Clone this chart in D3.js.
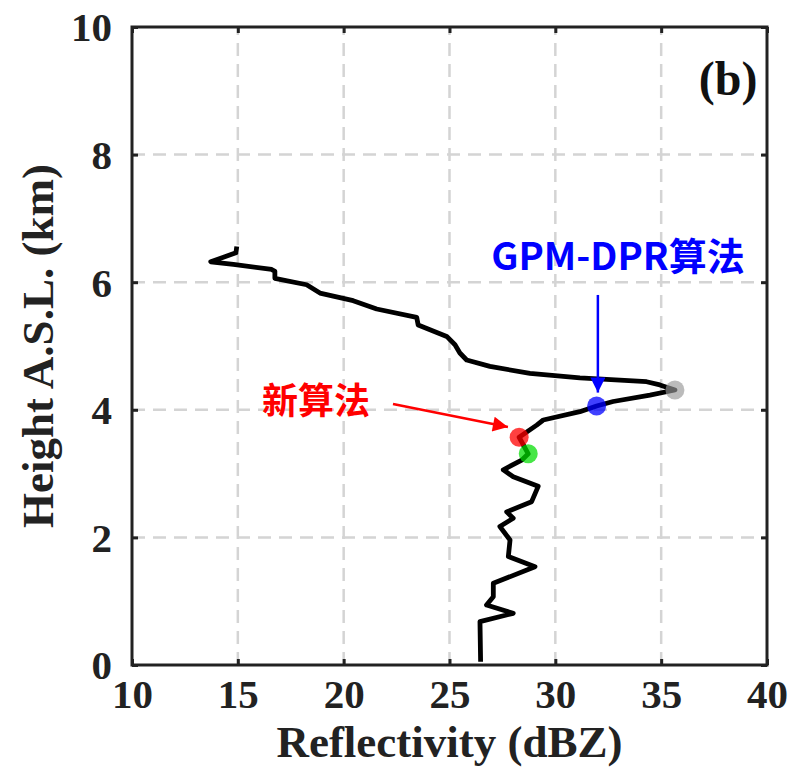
<!DOCTYPE html>
<html>
<head>
<meta charset="utf-8">
<script src="https://cdn.jsdelivr.net/npm/d3@7"></script>
<style>
  html, body { margin: 0; padding: 0; background: #fff; }
  svg { display: block; }
</style>
</head>
<body>
<script>
// Vertical reflectivity profile (height vs. dBZ), listed from top to bottom
const profileRefl = [14.95, 14.91, 13.72, 14.79, 16.60, 16.75, 16.75, 18.25, 18.88, 20.45,
  21.56, 23.45, 23.52, 24.87, 25.26, 25.49, 25.81, 26.91, 28.80, 31.16,
  34.31, 34.94, 35.65, 34.47, 32.73, 31.95, 31.16, 29.43, 29.12, 28.29,
  28.72, 28.41, 27.54, 28.01, 29.19, 28.88, 27.70, 28.01, 27.38, 27.86,
  27.78, 29.04, 27.07, 27.07, 26.75, 28.01, 26.44, 26.47];
const profileHeight = [6.56, 6.46, 6.32, 6.28, 6.20, 6.17, 6.06, 5.96, 5.83, 5.71,
  5.58, 5.45, 5.33, 5.15, 5.02, 4.89, 4.78, 4.68, 4.57, 4.50,
  4.44, 4.39, 4.31, 4.23, 4.13, 4.06, 3.97, 3.84, 3.76, 3.57,
  3.31, 3.21, 3.06, 2.95, 2.80, 2.56, 2.40, 2.30, 2.17, 1.96,
  1.70, 1.54, 1.28, 1.07, 0.94, 0.81, 0.68, 0.05];

// Highlighted levels: peak, GPM-DPR bright-band bottom, new-algorithm bottom, below
const markerNames = ["peak", "gpmdpr", "new", "lower"];
const markerRefl = [35.65, 31.95, 28.29, 28.72];
const markerHeight = [4.31, 4.06, 3.57, 3.31];
const markerColors = ["rgba(150,150,150,0.65)", "rgba(0,0,255,0.75)", "rgba(255,0,0,0.75)", "rgba(0,220,0,0.72)"];

const xTicks = [10, 15, 20, 25, 30, 35, 40];
const yTicks = [0, 2, 4, 6, 8, 10];

const W = 792, H = 784;
const svg = d3.select("body").append("svg").attr("width", W).attr("height", H);
svg.append("rect").attr("width", W).attr("height", H).attr("fill", "#fff");

const x = d3.scaleLinear().domain([10, 40]).range([132, 767]);
const y = d3.scaleLinear().domain([0, 10]).range([665, 27]);

const serif = "'Liberation Serif', 'Times New Roman', serif";
const cjk = "'Noto Sans CJK SC', 'Noto Sans', sans-serif";

// dashed grid
const grid = svg.append("g");
grid.selectAll("line.vg").data(xTicks.slice(1, -1)).join("line")
  .attr("x1", d => x(d)).attr("x2", d => x(d))
  .attr("y1", y(0)).attr("y2", y(10));
grid.selectAll("line.hg").data(yTicks.slice(1, -1)).join("line")
  .attr("x1", x(10)).attr("x2", x(40))
  .attr("y1", d => y(d)).attr("y2", d => y(d));
grid.selectAll("line")
  .attr("stroke", "#d4d4d4").attr("stroke-width", 2.5)
  .attr("stroke-dasharray", "13,8");

// axes with inward ticks on all sides
const tickLen = 6;
const axB = svg.append("g").attr("transform", `translate(0,${y(0)})`)
  .call(d3.axisBottom(x).tickValues(xTicks).tickSize(-tickLen).tickPadding(14));
const axL = svg.append("g").attr("transform", `translate(${x(10)},0)`)
  .call(d3.axisLeft(y).tickValues(yTicks).tickSize(-tickLen).tickPadding(20));
const axT = svg.append("g").attr("transform", `translate(0,${y(10)})`)
  .call(d3.axisTop(x).tickValues(xTicks).tickSize(-tickLen).tickFormat(""));
const axR = svg.append("g").attr("transform", `translate(${x(40)},0)`)
  .call(d3.axisRight(y).tickValues(yTicks).tickSize(-tickLen).tickFormat(""));

[axB, axL, axT, axR].forEach(g => {
  g.select(".domain").remove();
  g.selectAll(".tick line").attr("stroke", "#222").attr("stroke-width", 3);
  g.selectAll(".tick text")
    .attr("fill", "#222")
    .style("font-family", serif)
    .style("font-weight", "bold")
    .style("font-size", "41px");
});
axB.selectAll(".tick text").attr("dy", "0.71em");
axL.selectAll(".tick text").attr("dy", "0.34em");

// frame
svg.append("rect")
  .attr("x", x(10)).attr("y", y(10))
  .attr("width", x(40) - x(10)).attr("height", y(0) - y(10))
  .attr("fill", "none").attr("stroke", "#222").attr("stroke-width", 3);

// profile line
const line = d3.line().x(d => x(d[0])).y(d => y(d[1]));
svg.append("path")
  .datum(profileRefl.map((r, i) => [r, profileHeight[i]]))
  .attr("d", line)
  .attr("fill", "none").attr("stroke", "#000")
  .attr("stroke-width", 4.8)
  .attr("stroke-linejoin", "round").attr("stroke-linecap", "butt");

// highlighted levels
svg.append("g").selectAll("circle")
  .data(markerNames.map((n, i) => ({ n, r: markerRefl[i], h: markerHeight[i], c: markerColors[i] })))
  .join("circle")
  .attr("cx", d => x(d.r)).attr("cy", d => y(d.h))
  .attr("r", 9.5).attr("fill", d => d.c);

// arrows
const defs = svg.append("defs");
function marker(id, color) {
  defs.append("marker").attr("id", id)
    .attr("viewBox", "0 0 10 10").attr("refX", 10).attr("refY", 5)
    .attr("markerUnits", "userSpaceOnUse")
    .attr("markerWidth", 16).attr("markerHeight", 15)
    .attr("orient", "auto")
    .append("path").attr("d", "M0,0 L10,5 L0,10 Z").attr("fill", color);
}
marker("ah-blue", "#0000ff");
marker("ah-red", "#ff0000");

svg.append("line")
  .attr("x1", x(32.01)).attr("y1", y(5.80))
  .attr("x2", x(32.01)).attr("y2", y(4.27))
  .attr("stroke", "#0000ff").attr("stroke-width", 2.5)
  .attr("marker-end", "url(#ah-blue)");
svg.append("line")
  .attr("x1", x(22.33)).attr("y1", y(4.09))
  .attr("x2", x(27.76)).attr("y2", y(3.73))
  .attr("stroke", "#ff0000").attr("stroke-width", 2.5)
  .attr("marker-end", "url(#ah-red)");

// annotation labels
svg.append("text")
  .attr("x", x(32.96)).attr("y", y(6.41)).attr("dy", "0.36em")
  .attr("text-anchor", "middle")
  .attr("fill", "#0000ff")
  .style("font-family", cjk).style("font-weight", "bold").style("font-size", "38px")
  .text("GPM-DPR算法");
svg.append("text")
  .attr("x", x(18.69)).attr("y", y(4.14)).attr("dy", "0.36em")
  .attr("text-anchor", "middle")
  .attr("fill", "#ff0000")
  .style("font-family", cjk).style("font-weight", "bold").style("font-size", "36px")
  .text("新算法");

// panel tag
svg.append("text")
  .attr("x", x(39.55)).attr("y", y(8.93))
  .attr("text-anchor", "end").attr("fill", "#111")
  .style("font-family", serif).style("font-weight", "bold").style("font-size", "48px")
  .text("(b)");

// axis titles
svg.append("text")
  .attr("x", (x(10) + x(40)) / 2).attr("y", 757)
  .attr("text-anchor", "middle").attr("fill", "#222")
  .style("font-family", serif).style("font-weight", "bold").style("font-size", "45px")
  .text("Reflectivity (dBZ)");
svg.append("text")
  .attr("transform", `translate(53,${(y(0) + y(10)) / 2}) rotate(-90)`)
  .attr("text-anchor", "middle").attr("fill", "#222")
  .style("font-family", serif).style("font-weight", "bold").style("font-size", "45px")
  .text("Height A.S.L. (km)");
</script>
</body>
</html>
